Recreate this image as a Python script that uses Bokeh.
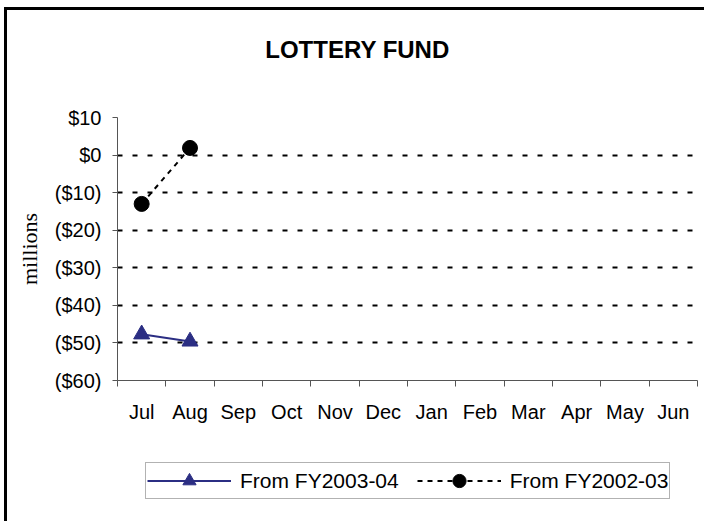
from bokeh.plotting import figure
from bokeh.models import (FixedTicker, Grid, Legend, LegendItem, ColumnDataSource, Label)
from bokeh.layouts import column
from bokeh.embed import file_html
from bokeh.resources import INLINE

# ---- data ----
months = ["Jul", "Aug", "Sep", "Oct", "Nov", "Dec", "Jan", "Feb", "Mar", "Apr", "May", "Jun"]
fy0304_months = ["Jul", "Aug"]
fy0304_values = [-47.7, -49.6]
fy0203_months = ["Jul", "Aug"]
fy0203_values = [-13.0, 1.9]
y_ticks = [-60, -50, -40, -30, -20, -10, 0, 10]
y_tick_labels = ["($60)", "($50)", "($40)", "($30)", "($20)", "($10)", "$0", "$10"]
title_text = "LOTTERY FUND"
y_title = "millions"
series_names = ["From FY2003-04", "From FY2002-03"]

FONT = "Liberation Sans"
AX = "#555555"
NAVY = "#2B2E83"
W = 697

# ---- header with the title (frame aligned with the chart's frame) ----
head = figure(width=W, height=80, output_backend="svg", toolbar_location=None,
              x_axis_type=None, y_axis_type=None, x_range=(0, 1), y_range=(0, 1),
              min_border_left=110, min_border_right=7, min_border_top=0, min_border_bottom=0,
              outline_line_color=None)
head.grid.visible = False
head.add_layout(Label(x=240, y=41, x_units="screen", y_units="screen", text=title_text,
                      text_align="center", text_baseline="middle", text_font=FONT,
                      text_font_size="24px", text_font_style="bold", text_color="black"))

# ---- main chart ----
p = figure(width=W, height=340, output_backend="svg", toolbar_location=None,
           title_location=None,
           x_range=(0, len(months)), y_range=(y_ticks[0], y_ticks[-1]),
           min_border_left=110, min_border_right=7, min_border_top=27, min_border_bottom=50,
           background_fill_color="white", border_fill_color="white")
p.outline_line_color = None

cat_pos = {m: i + 0.5 for i, m in enumerate(months)}
p.xaxis.ticker = FixedTicker(ticks=[cat_pos[m] for m in months],
                             minor_ticks=list(range(len(months) + 1)))
p.xaxis.major_label_overrides = {cat_pos[m]: m for m in months}
p.xaxis.major_tick_out = 0
p.xaxis.major_tick_in = 0
p.xaxis.minor_tick_out = 6
p.xaxis.minor_tick_in = 0
p.xaxis.major_label_standoff = 14
p.xaxis.major_label_text_font = FONT
p.xaxis.major_label_text_font_size = "20px"
p.xaxis.major_label_text_color = "black"
p.xaxis.axis_line_color = AX
p.xaxis.minor_tick_line_color = AX

p.yaxis.ticker = FixedTicker(ticks=y_ticks, minor_ticks=[])
p.yaxis.major_label_overrides = {t: l for t, l in zip(y_ticks, y_tick_labels)}
p.yaxis.major_tick_out = 5
p.yaxis.major_tick_in = 0
p.yaxis.major_label_standoff = 11
p.yaxis.major_label_text_font = FONT
p.yaxis.major_label_text_font_size = "20px"
p.yaxis.major_label_text_color = "black"
p.yaxis.axis_line_color = AX
p.yaxis.major_tick_line_color = AX
p.yaxis.axis_label = y_title
p.yaxis.axis_label_text_font = "Liberation Serif"
p.yaxis.axis_label_text_font_size = "22px"
p.yaxis.axis_label_text_font_style = "normal"
p.yaxis.axis_label_text_color = "black"
p.yaxis.axis_label_standoff = 10

p.xgrid.visible = False
p.ygrid.ticker = FixedTicker(ticks=[t for t in y_ticks if y_ticks[0] < t < y_ticks[-1]])
p.ygrid.grid_line_color = "black"
p.ygrid.grid_line_width = 2
p.ygrid.grid_line_dash = "5 10"
p.add_layout(Grid(dimension=1, ticker=FixedTicker(ticks=[y_ticks[-1]]),
                  grid_line_color="#999999", grid_line_width=1, grid_line_dash="5 10"))

src1 = ColumnDataSource(dict(x=[cat_pos[m] for m in fy0304_months], y=fy0304_values))
src2 = ColumnDataSource(dict(x=[cat_pos[m] for m in fy0203_months], y=fy0203_values))
LINE1 = dict(line_color=NAVY, line_width=2)
MARK1 = dict(marker="triangle", fill_color=NAVY, line_color=NAVY)
LINE2 = dict(line_color="black", line_width=2, line_dash="5 5")
MARK2 = dict(marker="circle", fill_color="black", line_color="black")
p.line("x", "y", source=src1, **LINE1)
p.scatter("x", "y", source=src1, size=16, **MARK1)
p.line("x", "y", source=src2, **LINE2)
p.scatter("x", "y", source=src2, size=15, **MARK2)

# ---- legend strip (its ranges keep the series out of view; only the legend shows) ----
leg = figure(width=W, height=91, output_backend="svg", toolbar_location=None,
             x_axis_type=None, y_axis_type=None, x_range=(100, 101), y_range=(100, 101),
             min_border_left=110, min_border_right=7, min_border_top=0, min_border_bottom=0,
             outline_line_color=None)
leg.grid.visible = False
gl1 = leg.line("x", "y", source=src1, **LINE1)
gs1 = leg.scatter("x", "y", source=src1, **MARK1)
gl2 = leg.line("x", "y", source=src2, **LINE2)
gs2 = leg.scatter("x", "y", source=src2, **MARK2)
legend = Legend(items=[LegendItem(label=series_names[0], renderers=[gl1, gs1]),
                       LegendItem(label=series_names[1], renderers=[gl2, gs2])],
                orientation="horizontal", location=(28, 22),
                label_text_font=FONT, label_text_font_size="21px", label_text_color="black",
                glyph_width=84, glyph_height=33, label_standoff=9, spacing=18,
                padding=1, margin=0,
                border_line_color="#666666", border_line_width=1.5,
                background_fill_color="white", background_fill_alpha=1)
leg.add_layout(legend, "center")

layout = column(head, p, leg, spacing=0)
layout.styles = {"margin-left": "4px", "margin-top": "7px",
                 "border-top": "3px solid black", "border-left": "3px solid black"}

open("out.html", "w").write(file_html(layout, INLINE))
